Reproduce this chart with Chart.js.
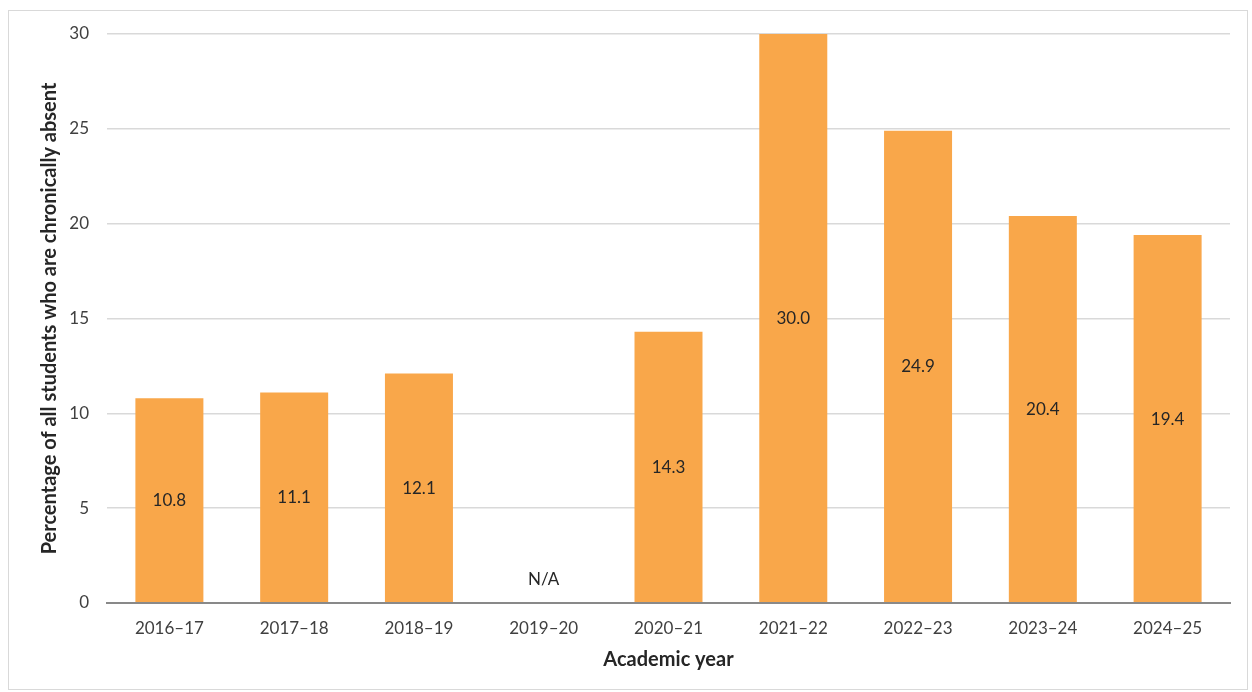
<!DOCTYPE html>
<html>
<head>
<meta charset="utf-8">
<script src="https://cdn.jsdelivr.net/npm/chart.js@4"></script>
<style>
  body { margin: 0; background: #fff; }
  #frame {
    position: absolute; left: 8px; top: 10px;
    width: 1240px; height: 680px;
    border: 1px solid #d9d9d9; box-sizing: border-box;
  }
</style>
</head>
<body>
<div id="frame"><canvas id="absenceChart"></canvas></div>
<script>
// Academic years and chronic absence rates (%); 2019-20 has no data
const years = ['2016–17', '2017–18', '2018–19', '2019–20', '2020–21', '2021–22', '2022–23', '2023–24', '2024–25'];
const absentRates = [10.8, 11.1, 12.1, null, 14.3, 30.0, 24.9, 20.4, 19.4];
const yTicks = [0, 5, 10, 15, 20, 25, 30];

const FONT = 'Lato, "Open Sans", sans-serif';

// Writes each value in the middle of its bar, or N/A just above the axis when missing
const barLabels = {
    id: 'barLabels',
    afterDatasetsDraw(chart) {
        const ctx = chart.ctx;
        const yScale = chart.scales.y;
        const meta = chart.getDatasetMeta(0);
        ctx.save();
        ctx.font = '17px ' + FONT;
        ctx.fillStyle = '#262626';
        ctx.textAlign = 'center';
        ctx.textBaseline = 'middle';
        meta.data.forEach((bar, i) => {
            const v = absentRates[i];
            if (v === null) {
                ctx.fillText('N/A', bar.x, yScale.getPixelForValue(0) - 23);
            } else {
                const mid = yScale.getPixelForValue(v / 2);
                ctx.fillText(v.toFixed(1), bar.x, mid);
            }
        });
        ctx.restore();
    }
};

const ctx = document.getElementById('absenceChart').getContext('2d');
new Chart(ctx, {
    type: 'bar',
    data: {
        labels: years,
        datasets: [{
            data: absentRates,
            backgroundColor: '#f9a74a',
            borderWidth: 0,
            categoryPercentage: 1,
            barPercentage: 0.545
        }]
    },
    options: {
        responsive: true,
        maintainAspectRatio: false,
        animation: false,
        layout: { autoPadding: false, padding: { left: 0, right: 17, top: 23, bottom: 0 } },
        plugins: {
            legend: { display: false },
            tooltip: { enabled: false }
        },
        scales: {
            x: {
                grid: { display: false, drawTicks: false },
                border: { display: true, color: '#898989', width: 2 },
                ticks: { color: '#404040', font: { family: FONT, size: 17 }, padding: 15, maxRotation: 0 },
                title: {
                    display: true,
                    text: 'Academic year',
                    color: '#262626',
                    font: { family: FONT, size: 20, weight: 'bold' },
                    padding: { top: 0, bottom: 17 }
                },
                afterFit(scale) {
                    scale.height = 86;
                    scale.paddingLeft = 0;
                    scale.paddingRight = 0;
                }
            },
            y: {
                min: 0,
                max: 30,
                afterBuildTicks(scale) { scale.ticks = yTicks.map(v => ({ value: v })); },
                grid: {
                    drawTicks: false,
                    color: c => c.tick && c.tick.value === 0 ? '#898989' : '#d9d9d9',
                    lineWidth: c => c.tick && c.tick.value === 0 ? 2 : 1.5
                },
                border: { display: false },
                ticks: { color: '#404040', font: { family: FONT, size: 17 }, padding: 18 },
                title: {
                    display: true,
                    text: 'Percentage of all students who are chronically absent',
                    color: '#262626',
                    font: { family: FONT, size: 20, weight: 'bold' },
                    padding: { top: 29, bottom: 0 }
                },
                afterFit(scale) {
                    scale.width = 98;
                    scale.paddingTop = 0;
                    scale.paddingBottom = 0;
                }
            }
        }
    },
    plugins: [barLabels]
});
</script>
</body>
</html>
